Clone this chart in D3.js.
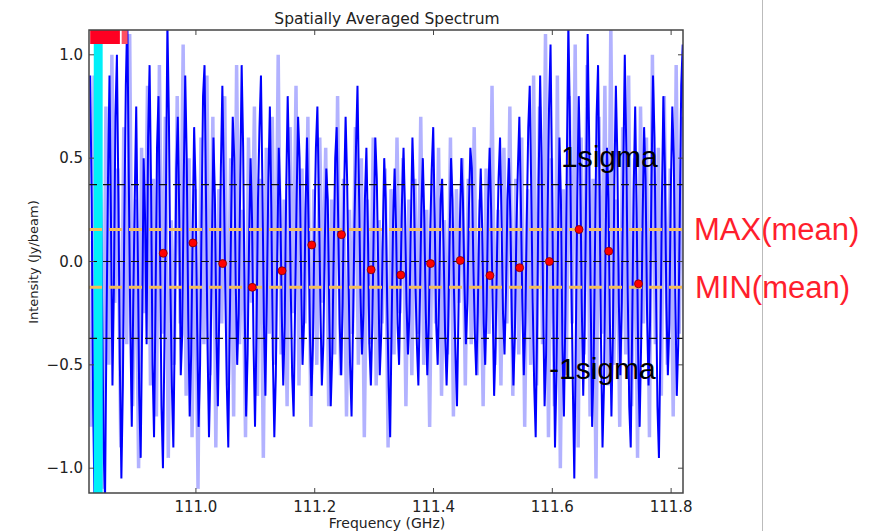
<!DOCTYPE html>
<html>
<head>
<meta charset="utf-8">
<script src="https://cdn.jsdelivr.net/npm/d3@7"></script>
<style>
  body { margin: 0; background: #fff; }
  svg { display: block; }
</style>
</head>
<body>
<div id="chart-area"></div>
<script>

// SVG Size
var width = 879,
		height = 531;

// plot box (window.top is reserved, so prefixed names)
var boxLeft = 89, boxRight = 683, boxTop = 30, boxBottom = 493;

// channels: start frequency and step (GHz)
var freqStart = 110.822,
		freqStep = 0.0025,
		lightStep = 0.005;

// main spectrum (Jy/beam)
var spectrum = [
	0.9, 0.3, -0.7, -1.2, -0.4, 0.5, 1.15, 0.6, -0.2, -0.9,
	-1.15, -0.3, 0.4, 0.9, 0.2, -0.6, -0.1, 0.7, 1.0, 0.3,
	-0.5, -1.05, -0.6, 0.2, 0.85, 1.2, 0.4, -0.3, -0.8, -0.2,
	0.3, 0.75, 0.1, -0.65, -0.95, -0.3, 0.5, 0.2, -0.4, 0.6,
	0.95, 0.35, -0.5, -0.85, -0.2, 0.55, 0.8, 0.1, -0.7, -1.0,
	-0.4, 0.3, 1.15, 0.7, -0.1, -0.6, -0.9, -0.3, 0.45, 0.7,
	0.2, -0.55, -0.35, 0.4, 0.9, 0.5, -0.25, -0.75, -0.45, 0.15,
	0.65, 0.35, -0.3, -0.8, -0.5, 0.2, 0.8, 0.95, 0.3, -0.4,
	-0.85, -0.5, 0.1, 0.6, 0.3, -0.35, -0.7, -0.2, 0.45, 0.85,
	0.4, -0.15, -0.6, -0.9, -0.3, 0.25, 0.7, 0.5, -0.1, -0.5,
	-0.25, 0.35, 0.95, 0.55, -0.2, -0.75, -0.45, 0.1, 0.5, 0.2,
	-0.4, -0.8, -0.35, 0.3, 0.65, 0.9, 0.35, -0.3, -0.65, -0.15,
	0.4, 0.75, 0.25, -0.45, -0.85, -0.55, 0.05, 0.55, 0.3, -0.25,
	-0.6, -0.3, 0.35, 0.8, 0.45, -0.1, -0.55, -0.75, -0.2, 0.3,
	0.7, 0.5, -0.05, -0.5, -0.3, 0.25, 0.6, 0.2, -0.35, -0.65,
	-0.4, 0.15, 0.55, 0.75, 0.3, -0.2, -0.6, -0.4, 0.1, 0.45,
	0.3, -0.25, -0.7, -0.45, 0.05, 0.5, 0.65, 0.2, -0.3, -0.55,
	-0.2, 0.35, 0.7, 0.4, -0.1, -0.5, -0.75, -0.3, 0.2, 0.55,
	0.85, 0.35, -0.15, -0.45, -0.25, 0.3, 0.55, 0.15, -0.4, -0.6,
	-0.3, 0.2, 0.6, 0.4, -0.05, -0.55, -0.35, 0.1, 0.5, 0.3,
	-0.2, -0.6, -0.85, -0.3, 0.2, 0.45, 0.15, -0.3, -0.5, -0.1,
	0.3, 0.55, 0.25, -0.2, -0.45, -0.25, 0.2, 0.6, 0.35, -0.1,
	-0.4, -0.6, -0.2, 0.25, 0.5, 0.2, -0.25, -0.55, -0.3, 0.15,
	0.45, 0.65, 0.2, -0.3, -0.5, -0.15, 0.3, 0.4, 0.05, -0.35,
	-0.6, -0.35, 0.1, 0.5, 0.3, -0.15, -0.45, -0.7, -0.25, 0.2,
	0.5, 0.3, -0.1, -0.4, -0.2, 0.25, 0.55, 0.45, 0.0, -0.35,
	-0.55, -0.25, 0.2, 0.45, 0.15, -0.3, -0.5, -0.2, 0.3, 0.55,
	0.25, -0.2, -0.65, -0.4, 0.05, 0.4, 0.6, 0.2, -0.25, -0.45,
	-0.15, 0.3, 0.5, 0.2, -0.3, -0.6, -0.35, 0.15, 0.45, 0.7,
	0.3, -0.2, -0.55, -0.3, 0.2, 0.65, 0.85, 0.35, -0.2, -0.6,
	-0.85, -0.3, 0.4, 0.9, 0.5, -0.2, -0.7, -0.45, 0.2, 0.75,
	1.05, 0.4, -0.3, -0.9, -0.55, 0.1, 0.6, 0.3, -0.4, -0.75,
	-0.25, 0.5, 1.15, 0.7, -0.05, -0.6, -1.05, -0.4, 0.3, 0.8,
	0.45, -0.2, -0.65, -0.3, 0.35, 1.1, 0.6, -0.15, -0.8, -0.5,
	0.1, 0.7, 0.95, 0.35, -0.4, -0.9, -0.6, 0.05, 0.55, 0.3,
	-0.3, -0.75, -0.35, 0.4, 0.85, 0.5, -0.2, -0.55, -0.2, 0.45,
	1.0, 0.55, -0.15, -0.7, -0.9, -0.3, 0.35, 0.75, 0.25, -0.45,
	-0.8, -0.4, 0.2, 0.65, 0.4, -0.25, -0.6, -0.3, 0.4, 0.9,
	0.6, -0.1, -0.7, -0.95, -0.4, 0.3, 0.8, 0.45, -0.2, -0.55,
	-0.3, 0.35, 0.75, 0.5, -0.15, -0.65, -0.4, 0.2, 0.85, 1.05,
	0.4
];

// second, lighter spectrum
var spectrumLight = [
	-0.8, 0.9, -0.3, 0.6, -1.1, 0.75, -0.5, 1.0, -0.2, 0.45,
	-0.9, 0.65, -0.4, 1.1, -0.7, 0.3, -1.0, 0.55, -0.25, 0.85,
	-0.6, 0.4, -0.75, 0.95, -0.35, 0.7, -0.95, 0.2, -0.5, 0.8,
	-0.3, 1.05, -0.65, 0.5, -0.85, 0.35, -1.1, 0.6, -0.4, 0.9,
	-0.55, 0.7, -0.9, 0.35, -0.3, 0.8, -0.6, 0.5, -0.75, 0.95,
	-0.4, 0.25, -0.85, 0.6, -0.2, 0.75, -0.65, 0.4, -0.95, 0.55,
	-0.35, 0.7, -0.5, 1.0, -0.45, 0.3, -0.7, 0.65, -0.25, 0.85,
	-0.6, 0.45, -0.3, 0.7, -0.8, 0.35, -0.5, 0.6, -0.2, 0.55,
	-0.7, 0.3, -0.45, 0.8, -0.55, 0.4, -0.75, 0.25, -0.35, 0.65,
	-0.5, 0.5, -0.85, 0.3, -0.4, 0.6, -0.6, 0.2, -0.3, 0.45,
	-0.9, 0.35, -0.45, 0.6, -0.25, 0.5, -0.7, 0.3, -0.55, 0.4,
	-0.35, 0.7, -0.5, 0.25, -0.8, 0.45, -0.3, 0.55, -0.65, 0.2,
	-0.45, 0.6, -0.75, 0.35, -0.2, 0.5, -0.6, 0.4, -0.4, 0.65,
	-0.55, 0.3, -0.7, 0.45, -0.35, 0.85, -0.5, 0.25, -0.6, 0.55,
	-0.3, 0.75, -0.65, 0.4, -0.45, 0.6, -0.8, 0.35, -0.5, 0.9,
	-0.6, 0.75, -0.4, 1.1, -0.85, 0.5, -0.7, 0.9, -1.0, 0.35,
	-0.55, 0.8, -0.3, 1.05, -0.9, 0.6, -0.45, 0.95, -0.75, 0.4,
	-1.05, 0.7, -0.35, 0.85, -0.6, 1.15, -0.5, 0.3, -0.8, 0.65,
	-0.45, 0.9, -0.7, 0.5, -0.95, 0.75, -0.3, 0.6, -0.85, 1.0,
	-0.4, 0.55, -0.65, 0.8, -0.5, 0.45, -0.75, 0.95, -0.35, 0.7,
	-0.6
];

// mean values per 0.05 GHz bin
var meanFreqs = [110.945, 110.995, 111.045, 111.095, 111.145, 111.195, 111.245, 111.295, 111.345,
	111.395, 111.445, 111.495, 111.545, 111.595, 111.645, 111.695, 111.745];
var meanValues = [0.04, 0.09, -0.01, -0.125, -0.045, 0.08, 0.13, -0.04, -0.065,
	-0.01, 0.005, -0.068, -0.03, 0.0, 0.155, 0.05, -0.108];

var sigma = 0.372;

// flagged / marked channel ranges
var redRanges = [[110.822, 110.872], [110.875, 110.885]];
var cyanRange = [110.828, 110.843];

var xTicks = [111.0, 111.2, 111.4, 111.6, 111.8];
var yTicks = [-1.0, -0.5, 0.0, 0.5, 1.0];

var svg = d3.select("#chart-area").append("svg")
	.attr("width", width)
	.attr("height", height);

var x = d3.scaleLinear()
	.domain([110.82, 111.82])
	.range([boxLeft, boxRight]);

var y = d3.scaleLinear()
	.domain([-1.12, 1.12])
	.range([boxBottom, boxTop]);

svg.append("clipPath").attr("id", "clip")
	.append("rect")
	.attr("x", boxLeft).attr("y", boxTop)
	.attr("width", boxRight - boxLeft).attr("height", boxBottom - boxTop);

var plot = svg.append("g").attr("clip-path", "url(#clip)");

var line = d3.line()
	.x(function(d) { return x(d[0]); })
	.y(function(d) { return y(d[1]); });

var lightData = spectrumLight.map(function(v, i) { return [freqStart + lightStep * (i + 0.3), v]; });
var darkData = spectrum.map(function(v, i) { return [freqStart + freqStep * i, v]; });

plot.append("path")
	.datum(lightData)
	.attr("d", line)
	.attr("fill", "none")
	.attr("stroke", "#0000ff")
	.attr("stroke-opacity", 0.3)
	.attr("stroke-width", 3.5);

plot.append("path")
	.datum(darkData)
	.attr("d", line)
	.attr("fill", "none")
	.attr("stroke", "#0000ff")
	.attr("stroke-width", 2);

// cyan band, drawn over the spectrum
plot.append("rect")
	.attr("x", x(cyanRange[0]))
	.attr("width", x(cyanRange[1]) - x(cyanRange[0]))
	.attr("y", boxTop).attr("height", boxBottom - boxTop)
	.attr("fill", "#00f0f8");

// red marks at top
plot.selectAll(".flag")
	.data(redRanges)
	.enter()
	.append("rect")
	.attr("x", function(d) { return x(d[0]); })
	.attr("width", function(d) { return x(d[1]) - x(d[0]); })
	.attr("y", boxTop)
	.attr("height", 14)
	.attr("fill", function(d, i) { return i == 0 ? "#ff0022" : "#ff5060"; });

// sigma and zero lines
[sigma, 0, -sigma].forEach(function(v) {
	plot.append("line")
		.attr("x1", boxLeft).attr("x2", boxRight)
		.attr("y1", y(v)).attr("y2", y(v))
		.attr("stroke", "#111")
		.attr("stroke-width", 1.2)
		.attr("stroke-dasharray", "8,6");
});

// max / min of the means
[d3.max(meanValues), d3.min(meanValues)].forEach(function(v) {
	plot.append("line")
		.attr("x1", boxLeft).attr("x2", boxRight)
		.attr("y1", y(v)).attr("y2", y(v))
		.attr("stroke", "#f3bd5a")
		.attr("stroke-width", 3)
		.attr("stroke-dasharray", "13,7");
});

plot.selectAll(".mean")
	.data(meanValues)
	.enter()
	.append("circle")
	.attr("cx", function(d, i) { return x(meanFreqs[i]); })
	.attr("cy", function(d) { return y(d); })
	.attr("r", 4)
	.attr("fill", "#ff0000")
	.attr("stroke", "#700")
	.attr("stroke-width", 0.8);

// axes box and ticks
svg.append("rect")
	.attr("x", boxLeft).attr("y", boxTop)
	.attr("width", boxRight - boxLeft).attr("height", boxBottom - boxTop)
	.attr("fill", "none")
	.attr("stroke", "#444")
	.attr("stroke-width", 1.5);

var tickColor = "#444";
svg.selectAll(".xt")
	.data(xTicks)
	.enter()
	.append("path")
	.attr("d", function(d) { return "M" + x(d) + "," + boxBottom + "v-5M" + x(d) + "," + boxTop + "v5"; })
	.attr("stroke", tickColor);

svg.selectAll(".yt")
	.data(yTicks)
	.enter()
	.append("path")
	.attr("d", function(d) { return "M" + boxLeft + "," + y(d) + "h5M" + boxRight + "," + y(d) + "h-5"; })
	.attr("stroke", tickColor);

var labelFont = "DejaVu Sans, sans-serif";

svg.selectAll(".xl")
	.data(xTicks)
	.enter()
	.append("text")
	.attr("x", function(d) { return x(d); })
	.attr("y", 512)
	.attr("text-anchor", "middle")
	.attr("font-family", labelFont)
	.attr("font-size", 15)
	.attr("fill", "#222")
	.text(function(d) { return d.toFixed(1); });

svg.selectAll(".yl")
	.data(yTicks)
	.enter()
	.append("text")
	.attr("x", boxLeft - 6)
	.attr("y", function(d) { return y(d) + 5; })
	.attr("text-anchor", "end")
	.attr("font-family", labelFont)
	.attr("font-size", 15)
	.attr("fill", "#222")
	.text(function(d) { return d.toFixed(1).replace("-", "\u2212"); });

svg.append("text")
	.attr("x", 387).attr("y", 24)
	.attr("text-anchor", "middle")
	.attr("font-family", labelFont)
	.attr("font-size", 15.5)
	.attr("fill", "#222")
	.text("Spatially Averaged Spectrum");

svg.append("text")
	.attr("x", 387).attr("y", 528)
	.attr("text-anchor", "middle")
	.attr("font-family", labelFont)
	.attr("font-size", 14)
	.attr("fill", "#222")
	.text("Frequency (GHz)");

svg.append("text")
	.attr("transform", "translate(38,262) rotate(-90)")
	.attr("text-anchor", "middle")
	.attr("font-family", labelFont)
	.attr("font-size", 13)
	.attr("fill", "#222")
	.text("Intensity (Jy/beam)");

// annotations
var noteFont = "Liberation Sans, Arial, sans-serif";

svg.append("text")
	.attr("x", 561).attr("y", 167)
	.attr("font-family", noteFont)
	.attr("font-size", 30)
	.attr("fill", "#000")
	.text("1sigma");

svg.append("text")
	.attr("x", 549).attr("y", 379)
	.attr("font-family", noteFont)
	.attr("font-size", 30)
	.attr("fill", "#000")
	.text("-1sigma");

svg.append("text")
	.attr("x", 694).attr("y", 240)
	.attr("font-family", noteFont)
	.attr("font-size", 31)
	.attr("fill", "#ff1e2d")
	.text("MAX(mean)");

svg.append("text")
	.attr("x", 695).attr("y", 298)
	.attr("font-family", noteFont)
	.attr("font-size", 31)
	.attr("fill", "#ff1e2d")
	.text("MIN(mean)");

// slide edge
svg.append("line")
	.attr("x1", 762.5).attr("x2", 762.5)
	.attr("y1", 0).attr("y2", height)
	.attr("stroke", "#bbb");

</script>
</body>
</html>
